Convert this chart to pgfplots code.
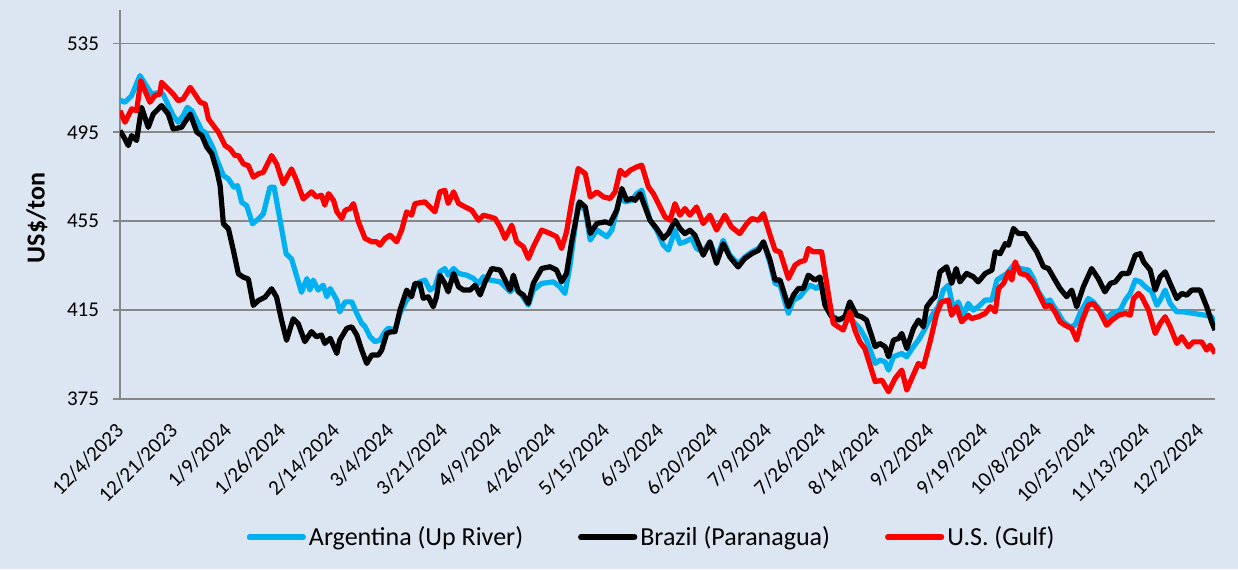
\documentclass[border=0pt]{standalone}
\usepackage{fontspec}
\setmainfont{Carlito}
\usepackage{pgfplots}
\pgfplotsset{compat=1.18}
\definecolor{bgblue}{HTML}{DCE6F2}
\definecolor{argblue}{HTML}{00B0F0}
\definecolor{usred}{HTML}{FF0000}
\definecolor{gridgray}{HTML}{878787}

\begin{document}
\begin{tikzpicture}
\path[use as bounding box, fill=bgblue] (0,0) rectangle (619pt,284.5pt);
\begin{axis}[
  at={(60pt,85pt)}, anchor=south west,
  width=547.5pt, height=194.5pt, scale only axis,
  xmin=0, xmax=263.6, ymin=375, ymax=550,
  axis x line*=bottom, axis y line*=left,
  axis line style={gridgray, line width=0.8pt},
  ytick={375,415,455,495,535},
  ymajorgrids, grid style={gridgray, line width=0.8pt},
  xtick={0,13,...,260},
  xticklabels={12/4/2023,12/21/2023,1/9/2024,1/26/2024,2/14/2024,3/4/2024,3/21/2024,4/9/2024,4/26/2024,5/15/2024,6/3/2024,6/20/2024,7/9/2024,7/26/2024,8/14/2024,9/2/2024,9/19/2024,10/8/2024,10/25/2024,11/13/2024,12/2/2024},
  minor xtick={0,5,...,260},
  tick align=outside, major tick length=3.5pt, minor tick length=2.5pt,
  xtick style={draw=none},
  minor x tick style={gridgray, line width=0.8pt},
  y tick style={gridgray, line width=0.8pt},
  /pgf/number format/assume math mode=true,
  ticklabel style={font=\fontsize{10.5}{12}\selectfont},
  yticklabel style={inner sep=0pt, xshift=-6.8pt},
  xticklabel style={inner sep=0pt, yshift=-10.5pt, rotate=45, anchor=east},
  ylabel={\textbf{US\$/ton}},
  ylabel style={at={(axis description cs:-0.0758,0.465)}, anchor=center, font=\fontsize{13}{15}\selectfont},
  legend style={at={(0.486,-0.355)}, anchor=center, legend columns=-1, draw=none, fill=none,
    font=\fontsize{13}{15}\selectfont, /tikz/every even column/.append style={column sep=26pt},
    nodes={inner sep=1.5pt}},
  legend image code/.code={\draw[#1, line cap=round] (0pt,0pt) -- (27pt,0pt);},
  clip=true,
  every axis plot/.append style={line width=2.6pt, line join=round, no markers},
]
% Argentina (Up River)
\addplot[argblue] coordinates {
(0,509.5) (1.2,508.5) (2.8,511.5) (4.8,520.5) (7.6,512.2) (9.6,513) (10.4,512) (12.8,502.5) (14,499.5) (15.2,502.5) (16.2,506.2) (17.3,504.7) (18.5,500.2) (19.7,495.7) (20.5,495) (21.7,490.5) (22.5,487.5) (23.4,482.3) (24.9,475.5) (26.1,474) (27.4,470.3) (28.3,471) (29.3,463.5) (30.5,462) (31.9,453.8) (33.3,456) (34.5,458.3) (36.1,470.3) (37.1,470.3) (38.4,456.8) (40,440.3) (41.3,438) (43.7,423)
(45,429.2) (45.7,424) (46.5,428.5) (47.7,424) (48.9,426.2) (49.8,421) (50.6,424.7) (52.2,419.5) (52.9,414.2) (54.2,418.7) (55.8,418.7) (57,413.5) (58.2,409) (59,407.5) (60.2,403) (61.4,400.8) (62.6,401.5) (63.8,405.3) (64.6,406.8) (66.2,406) (67.4,413.5) (69,419.5) (69.8,421) (71,425.5) (72.2,427.7) (73.4,428.5) (74.6,424) (75.8,425.5) (77,432.2) (78.2,433.7) (79,430.7) (80.3,433.7) (81.5,431.5) (83.5,430.7) (85.1,429.2) (86.3,427) (87.5,430) (89.1,428.5)
(91.5,427.7) (93.9,423.2) (95.1,425.5) (96.7,421.8) (98.3,417.2) (99.5,424) (101.5,427) (104.3,427.7) (105.9,425.5) (107.1,422.5) (108.3,434.5) (110.3,462.9) (112,459.9) (113.2,446.5) (114.8,451) (117.2,448) (118.4,451) (120.4,465.9) (121.6,463.7) (123.2,464.4) (124.4,467.4) (125.6,468.9) (127.6,455.4) (129.2,451) (130.8,444.2) (132,442) (133.6,451) (134.8,445)
(136,445.7) (137.6,447.2) (138.8,442.7) (140.4,441.2) (142,445.7) (143.6,438.2) (145.2,446.4) (146.8,439.7) (148.8,435.9) (150.4,438.9) (152.1,441.2) (153.7,442.7) (154.9,445.7) (156.5,435.9) (157.7,427) (158.9,426.2) (160.9,413.5) (162.1,419.5) (163.7,421) (164.9,424) (166.1,426.2) (167.7,424.7) (168.9,427) (170.1,416.5) (171.7,412) (173.3,410.5) (174.9,412) (176.1,410.5) (178.1,406.7) (179.7,401.5)
(181.8,391) (182.9,392.5) (184.2,391.7) (185,388) (186.2,394) (188.2,395.5) (189.4,394) (191,398.5) (192.2,401.5) (193.4,405.2) (194.6,409.7) (195.8,413.5) (197,416.5) (198.2,424) (199.4,426.2) (200.6,415.7) (201.8,418.7) (203,412.7) (204.2,418) (205.4,415) (206.6,416.5) (208.3,419.5) (209.9,419.5) (211.1,428.5) (212.3,430) (213.5,431.5) (215.1,435.2) (216.7,433.7) (218.7,433) (219.9,429.2) (221.1,423.2)
(222.7,418.7) (223.9,419.5) (225.1,415.7) (225.9,413.5) (227.1,409.7) (228.7,407.5) (229.9,408.2) (231.1,413.5) (233.1,420.2) (234.3,418.7) (235.9,415) (237.5,411.2) (238.8,413.5) (240.8,415) (242,419.5) (243.2,422.5) (244.4,428.5) (245.6,427.7) (246.8,425.5) (248.4,423.2) (249.6,417.2) (250.4,419.5) (251.6,424) (252.8,418) (254.4,414.2) (256,414.2) (258.4,413.5) (261.2,412.7) (262.8,412) (263.6,409)
};
\addlegendentry{Argentina (Up River)}
% Brazil (Paranagua)
\addplot[black] coordinates {
(0,495.7) (1.2,492) (2,489) (2.8,493.5) (4,491.3) (5.2,506.2) (6.8,497.2) (8,503.2) (10,507) (11.6,503.2) (12.8,496.5) (14.8,497.2) (16.9,503.2) (18.5,495) (19.7,493.5) (20.9,488.3) (22.1,485.3) (23.3,477.8) (24.1,471) (24.9,453.8) (26.1,451.6) (27.3,441.8) (28.5,431.3) (29.7,429.8) (30.9,429) (32.1,417.1) (33.3,419.3) (34.9,420.8) (36.5,424.6) (37.7,420.8) (38.9,410.4) (40.1,401.4) (41.7,411.1) (42.9,408.9)
(44.5,400.8) (46.1,405.3) (47.3,403) (48.5,403.8) (49.3,400) (50.6,402.3) (52.2,395.5) (52.9,401.5) (54.6,406.8) (55.8,407.5) (57,403.8) (58.2,397) (59.4,391) (60.6,394.8) (62.2,394.8) (63,397) (64.2,404.5) (65.4,405.3) (66.2,405.3) (67.4,415) (69,424) (70.2,421) (71,427) (72.2,427) (73,420.3) (74.2,421) (75.4,416.5) (76.2,421) (77,430.7) (78.2,427) (79,423.2) (80.3,431.5) (81.5,425.5) (82.7,424) (84.3,424) (85.5,426.2) (86.7,421.8) (87.9,427.7) (89.5,433.7)
(91.5,433) (92.7,428.5) (93.9,424) (94.7,430.7) (95.9,423.2) (97.1,421.8) (98.3,418) (99.5,427) (101.5,433.7) (103.5,434.5) (105.1,433) (106.3,427.7) (107.5,431.5) (108.8,446.5) (110.6,463.7) (112,461.4) (113.2,449.5) (114.8,454) (116.8,454.7) (118,454) (119.6,460) (120.8,469.7) (122,464.4) (123.2,465.2) (124,464.4) (125.2,467.4) (126.4,461.4) (127.6,455.4) (129.2,451.7) (130.8,447.2) (132,449.5) (133.6,455.4) (134.8,451.7)
(136,449.4) (137.2,450.9) (138.4,448.7) (140.4,439.7) (142,445.7) (143.6,436) (145.2,444.9) (146.8,438.9) (148.8,434.4) (150.4,438.2) (152.1,440.4) (153.7,441.9) (154.9,445.7) (156.5,437.4) (157.7,428.5) (158.9,428.5) (160.9,416.5) (162.1,421.7) (163.3,424.7) (164.5,424.7) (165.7,430.7) (167.3,428.5) (168.5,429.9) (169.7,417.2) (171.3,412) (172.9,410.5) (174.5,412) (175.7,418.7) (177.3,412.7) (178.5,412) (179.7,410.5)
(181.8,398.5) (182.9,400) (184.2,398.5) (185,394) (186.2,401.5) (187.4,402.2) (188.2,404.5) (189.4,397.7) (191,406.7) (192.2,410.5) (193.4,407.5) (194.2,416.5) (195.4,419.5) (196.2,421) (197.4,432.2) (199,434.5) (200.2,427) (201.3,433.7) (202.2,427.7) (203.8,431.5) (205.4,430) (206.6,427.7) (208.3,431.5) (209.9,433) (210.7,441.2) (211.9,440.4) (213.1,444.9) (213.9,444.2) (215.1,451.7) (216.3,449.4) (217.9,449.4) (219.1,445.7) (220.7,441.2)
(222.3,434.5) (223.5,433.7) (225.1,428.5) (226.3,424.7) (227.9,421) (229.1,424) (230.3,416.5) (231.9,425.5) (233.9,433.7) (235.5,429.2) (237.1,423.2) (238.4,427) (239.6,427.7) (241.2,431.5) (242.8,431.5) (244.4,439.7) (245.6,440.4) (246.4,436.7) (248,433) (249.2,424) (250.4,430) (251.6,432.2) (252.8,427) (254.4,420.2) (255.6,422.5) (256.8,421.7) (258,424) (260,424) (261.6,416.5) (262.8,409.7) (263.6,406)
};
\addlegendentry{Brazil (Paranagua)}
% U.S. (Gulf)
\addplot[usred] coordinates {
(0,504.7) (1.2,499.5) (2.8,505.5) (4,504.7) (5,518.2) (6,513.7) (7.2,508.5) (8.4,511.5) (9.6,512.2) (10,517.5) (11.6,514.5) (12.8,512.2) (14,509.2) (15.2,510) (16.9,515.2) (18,512.2) (19.3,508.5) (20.5,507.7) (21.3,501) (22.5,498) (23.7,495) (25.3,489) (26.5,487.5) (27.7,484.5) (28.5,484.5) (29.7,480.8) (30.9,480) (32.1,474.8) (33.3,476.3) (34.5,477) (36.5,484.5) (37.7,480.8) (39.3,471.8) (41.3,478.5) (42.5,473.3) (44.1,465)
(46.1,468.2) (47.3,465.9) (48.5,466.7) (49.3,462.2) (50.2,467.4) (51.4,464.4) (52.2,459.2) (53.4,456.2) (54.2,459.9) (55.4,460.7) (56.2,462.9) (57.4,454.7) (59,447.2) (59.8,446.5) (60.6,445.7) (61.8,445.7) (62.6,444.2) (63.8,447.2) (65,448.7) (66.6,445.7) (67.8,451) (69,459.2) (70.2,457.7) (71,462.9) (73.4,463.7) (74.6,461.4) (75.8,459.2) (77,468.2) (78.2,468.9) (79,463) (80.3,468.2) (81.5,463) (83.1,461.4) (84.7,459.9) (86.3,455.4) (87.5,457.7) (89.1,456.9)
(90.3,456.2) (91.5,452.4) (92.7,447.2) (94.3,453.2) (95.5,445.7) (97.1,443.5) (98.3,438.2) (99.5,443.5) (101.5,451) (103.5,449.5) (105.1,448) (106.3,442.7) (107.5,450.2) (108.8,464.4) (110.3,478.7) (112,476.4) (113.2,465.9) (114.8,468.2) (116.4,465.9) (118,465.2) (119.2,468.2) (120.4,477.9) (121.6,475.7) (122.8,477.9) (124.4,479.4) (125.6,480.2) (127.2,470.4) (128.4,467.4) (129.6,462.9) (131.2,456.9) (132.4,455.4) (133.6,462.9) (134.8,457.7)
(136,460.7) (137.2,457.7) (138.8,461.4) (140.4,453.9) (142,457.7) (143.6,451) (145.6,457.7) (147.2,452.4) (149.2,449.4) (150.9,453.9) (152.1,456.2) (153.7,455.4) (154.9,458.4) (156.5,448.7) (157.7,441.9) (158.9,441.2) (160.9,429.2) (162.5,435.2) (163.7,436.7) (164.9,437.4) (165.7,442.7) (166.9,441.2) (168.9,441.2) (170.5,422.5) (171.7,409) (172.9,407.5) (174.1,406) (175.7,414.2) (176.9,406) (178.1,400.7) (179.3,397.7)
(181.8,382.8) (183.4,383.5) (185,378.3) (186.6,384.3) (188.2,388) (189.4,379) (190.6,384.3) (192.2,391) (193.4,389.5) (195,400.7) (196.6,413.5) (197.8,418.7) (199.4,419.5) (200.2,412.7) (201.4,416.5) (202.6,409.7) (204.2,412.7) (205,411.2) (206.6,412) (208.3,413.5) (209.5,416.5) (210.7,414.2) (211.5,424.7) (212.7,427) (213.9,432.2) (214.7,428.5) (215.5,436.7) (216.7,431.5) (218.3,430.7) (219.9,427) (221.1,422.5)
(222.7,416.5) (223.9,417.2) (225.1,414.2) (226.3,409.7) (227.5,408.2) (229.1,406.7) (230.3,401.5) (231.5,409.7) (233.1,417.2) (234.3,418) (235.9,414.2) (237.5,408.2) (238.8,410.5) (240.4,412.7) (242,413.5) (243.2,412.7) (244,420.2) (245.2,422.5) (246,420.9) (247.6,415) (249.2,404.5) (250.4,409) (251.6,412) (252.8,407.5) (254.4,400) (255.6,403) (257.2,398.5) (258.4,400.7) (260.4,400.7) (261.6,397) (262.4,399.2) (263.6,395.5)
};
\addlegendentry{U.S. (Gulf)}
\end{axis}
\end{tikzpicture}
\end{document}
